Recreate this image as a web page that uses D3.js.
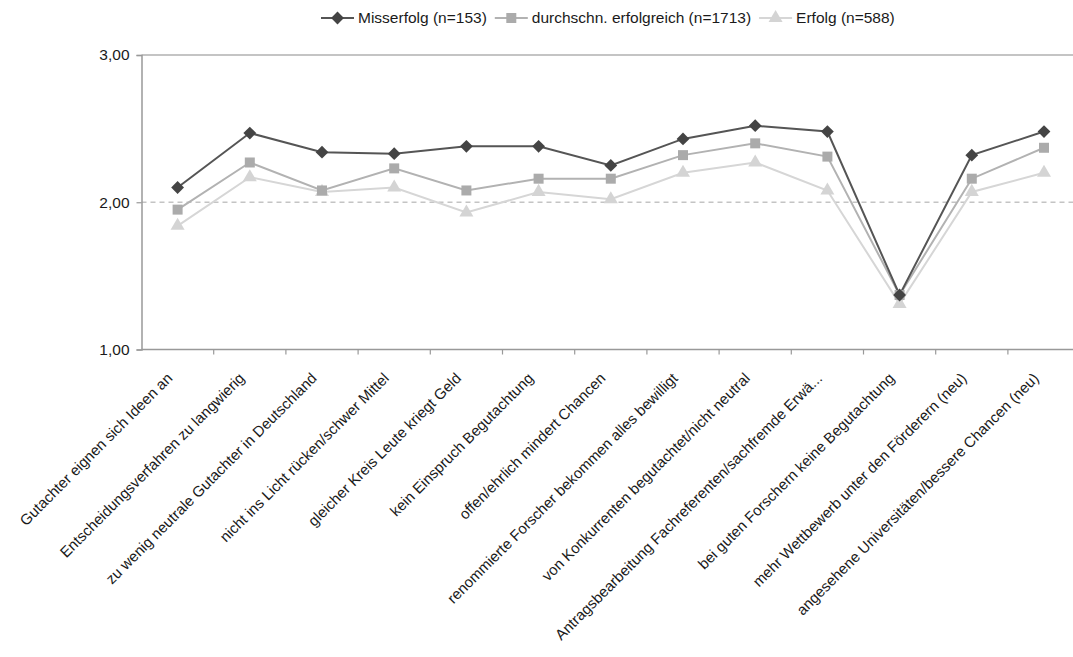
<!DOCTYPE html>
<html><head><meta charset="utf-8">
<script src="https://cdn.jsdelivr.net/npm/d3@7"></script>
<style>
body{margin:0;background:#fff;}
text{font-family:"Liberation Sans",Arial,sans-serif;fill:#1a1a1a;}
</style></head>
<body><svg id="c" width="1073" height="657"></svg>
<script>
const categories = [
  "Gutachter eignen sich Ideen an",
  "Entscheidungsverfahren zu langwierig",
  "zu wenig neutrale Gutachter in Deutschland",
  "nicht ins Licht rücken/schwer Mittel",
  "gleicher Kreis Leute kriegt Geld",
  "kein Einspruch Begutachtung",
  "offen/ehrlich mindert Chancen",
  "renommierte Forscher bekommen alles bewilligt",
  "von Konkurrenten begutachtet/nicht neutral",
  "Antragsbearbeitung Fachreferenten/sachfremde Erwä...",
  "bei guten Forschern keine Begutachtung",
  "mehr Wettbewerb unter den Förderern (neu)",
  "angesehene Universitäten/bessere Chancen (neu)"
];
const seriesNames = ["Misserfolg (n=153)", "durchschn. erfolgreich (n=1713)", "Erfolg (n=588)"];
const misserfolg = [2.10, 2.47, 2.34, 2.33, 2.38, 2.38, 2.25, 2.43, 2.52, 2.48, 1.37, 2.32, 2.48];
const durchschn  = [1.95, 2.27, 2.08, 2.23, 2.08, 2.16, 2.16, 2.32, 2.40, 2.31, 1.37, 2.16, 2.37];
const erfolg     = [1.84, 2.17, 2.07, 2.10, 1.93, 2.07, 2.02, 2.20, 2.27, 2.08, 1.31, 2.07, 2.20];
const yTicks = [1, 2, 3];
const yTickLabels = ["1,00", "2,00", "3,00"];

const series = [
  {name: seriesNames[0], values: misserfolg, line: "#555555", fill: "#444444", sym: d3.symbolSquare, size: 82, rot: 45},
  {name: seriesNames[1], values: durchschn, line: "#b2b2b2", fill: "#ababab", sym: d3.symbolSquare, size: 100, rot: 0},
  {name: seriesNames[2], values: erfolg, line: "#d6d6d6", fill: "#d4d4d4", sym: d3.symbolTriangle, size: 85, rot: 0}
];

const svg = d3.select("#c");
const mLeft = 141.5, mTop = 55, mBottom = 349.5;
const x = d3.scaleBand().domain(categories).range([mLeft, mLeft + 13 * 72.2]);
const y = d3.scaleLinear().domain([1, 3]).range([mBottom, mTop]);
const fs = 15.5;

// top gridline
svg.append("line").attr("x1", mLeft).attr("x2", 1073).attr("y1", y(3)).attr("y2", y(3))
  .attr("stroke", "#c4c4c4").attr("stroke-width", 2);
// dashed 2.00 line
svg.append("line").attr("x1", mLeft).attr("x2", 1073).attr("y1", y(2)).attr("y2", y(2))
  .attr("stroke", "#c4c4c4").attr("stroke-width", 1.5).attr("stroke-dasharray", "5,4");

// y axis
const yAxis = svg.append("g").attr("transform", `translate(${mLeft},0)`)
  .call(d3.axisLeft(y).tickValues(yTicks).tickFormat((d, i) => yTickLabels[i]).tickSize(5).tickPadding(7));
yAxis.select(".domain").attr("stroke", "#999").attr("stroke-width", 1.5);
yAxis.selectAll(".tick line").attr("stroke", "#999").attr("stroke-width", 1.2);
yAxis.selectAll("text").style("font-size", fs + "px").attr("fill", "#1a1a1a")
  .style("font-family", "'Liberation Sans',Arial,sans-serif");

// x axis line with ticks at band boundaries
const xg = svg.append("g");
xg.append("line").attr("x1", mLeft).attr("x2", 1073).attr("y1", mBottom).attr("y2", mBottom)
  .attr("stroke", "#999").attr("stroke-width", 1.5);
xg.selectAll(".bt").data(categories).join("line")
  .attr("x1", d => x(d) + x.step())
  .attr("x2", d => x(d) + x.step())
  .attr("y1", mBottom).attr("y2", mBottom + 5).attr("stroke", "#999").attr("stroke-width", 1.2);

// category labels
const cx = d => x(d) + x.bandwidth() / 2;
svg.append("g").selectAll("text").data(categories).join("text")
  .attr("transform", d => `translate(${cx(d) - 8},${mBottom + 26}) rotate(-45)`)
  .attr("text-anchor", "end").attr("dy", "0.35em")
  .style("font-size", "15px")
  .text(d => d);

// lines and markers
const line = d3.line().x((v, i) => cx(categories[i])).y(v => y(v));
series.slice().reverse().forEach(s => {
  svg.append("path").attr("d", line(s.values)).attr("fill", "none")
    .attr("stroke", s.line).attr("stroke-width", 2);
});
series.slice().reverse().forEach(s => {
  svg.append("g").selectAll("path").data(s.values).join("path")
    .attr("d", d3.symbol().type(s.sym).size(s.size))
    .attr("transform", (v, i) => `translate(${cx(categories[i])},${y(v)}) rotate(${s.rot})`)
    .attr("fill", s.fill);
});

// legend
const lg = svg.append("g").attr("transform", "translate(321,18)");
let lx = 0;
series.forEach(s => {
  const g = lg.append("g").attr("transform", `translate(${lx},0)`);
  g.append("line").attr("x1", 0).attr("x2", 33).attr("stroke", s.line).attr("stroke-width", 2);
  g.append("path").attr("d", d3.symbol().type(s.sym).size(s.size))
    .attr("transform", `translate(16.5,0) rotate(${s.rot})`).attr("fill", s.fill);
  const t = g.append("text").attr("x", 37).attr("dy", "0.35em").style("font-size", fs + "px").text(s.name);
  lx += 37 + t.node().getComputedTextLength() + 8;
});
</script></body></html>
